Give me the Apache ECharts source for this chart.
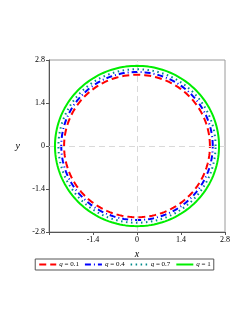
<!DOCTYPE html>
<html><head><meta charset="utf-8">
<script src="https://cdn.jsdelivr.net/npm/echarts@6/dist/echarts.min.js"></script>
<style>html,body{margin:0;padding:0;background:#fff}#c{width:249px;height:323px}</style>
</head><body><div id="c"></div>
<script>
// Data
var qLabels = ['0.1', '0.4', '0.7', '1'];
var radii = [2.32, 2.41, 2.50, 2.61];
var colors = ['#ff0000', '#0000ff', '#008b8b', '#00ee00'];
var lineTypes = [[7, 4], [6, 3, 1, 3], [1.5, 3.5], 'solid'];
var xTicks = ['-1.4', '0', '1.4', '2.8'];
var yTicks = ['-2.8', '-1.4', '0', '1.4', '2.8'];
var nPts = 181;

function circle(r) {
  var pts = [];
  for (var i = 0; i < nPts; i++) {
    var t = 2 * Math.PI * i / (nPts - 1);
    pts.push([r * Math.cos(t), r * Math.sin(t)]);
  }
  return pts;
}

var font = 'Liberation Serif';
var series = qLabels.map(function (q, k) {
  var s = {
    type: 'line', name: '{i|q} = ' + q, data: circle(radii[k]),
    showSymbol: false, symbol: 'none', smooth: false,
    lineStyle: { color: colors[k], width: 2, type: lineTypes[k] },
    itemStyle: { color: colors[k] },
    z: 3 + k, animation: false
  };
  return s;
});
series.push({
  type: 'line', data: [], silent: true, animation: false,
  markLine: {
    symbol: 'none', silent: true, animation: false, label: { show: false },
    lineStyle: { color: '#d9d9d9', type: [6, 4], width: 1 },
    data: [{ xAxis: 0 }, { yAxis: 0 }]
  }
});

var chart = echarts.init(document.getElementById('c'));
chart.setOption({
  animation: false,
  grid: { left: 49, top: 60, right: 24, bottom: 91, show: true, borderColor: '#9a9a9a', borderWidth: 1 },
  xAxis: {
    type: 'value', min: -2.8, max: 2.8, interval: 1.4,
    name: 'x', nameLocation: 'middle', nameGap: 13,
    nameTextStyle: { fontFamily: font, fontStyle: 'italic', fontSize: 10, color: '#000' },
    axisLine: { show: true, onZero: false, lineStyle: { color: '#555' } },
    axisTick: { show: true, length: 3, inside: false, lineStyle: { color: '#555' } },
    splitLine: { show: false },
    axisLabel: {
      fontFamily: font, fontSize: 8, color: '#000', margin: 4,
      formatter: function (v) { var s = (Math.round(v * 10) / 10).toString(); return xTicks.indexOf(s) >= 0 ? s : ''; }
    }
  },
  yAxis: {
    type: 'value', min: -2.8, max: 2.8, interval: 1.4,
    name: 'y', nameLocation: 'middle', nameGap: 29, nameRotate: 0,
    nameTextStyle: { fontFamily: font, fontStyle: 'italic', fontSize: 10, color: '#000' },
    axisLine: { show: true, onZero: false, lineStyle: { color: '#555' } },
    axisTick: { show: true, length: 3, lineStyle: { color: '#555' } },
    splitLine: { show: false },
    axisLabel: {
      fontFamily: font, fontSize: 8, color: '#000', margin: 4,
      formatter: function (v) { var s = (Math.round(v * 10) / 10).toString(); return yTicks.indexOf(s) >= 0 ? s : ''; }
    }
  },
  legend: {
    bottom: 53, left: 'center', itemWidth: 17, itemHeight: 6, itemGap: 5,
    borderColor: '#555', borderWidth: 1, padding: [2, 3], borderRadius: 0,
    itemStyle: { opacity: 0 },
    data: series.slice(0, 4).map(function (s) { return s.name; }),
    textStyle: {
      fontFamily: font, fontSize: 7, color: '#000', padding: [0, 0, 0, -2],
      rich: { i: { fontFamily: font, fontStyle: 'italic', fontSize: 7, color: '#000' } }
    }
  },
  series: series
});
</script></body></html>
